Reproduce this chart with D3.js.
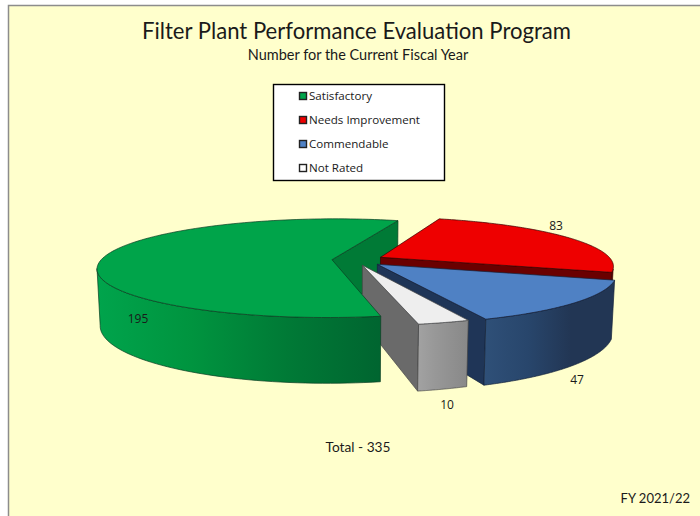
<!DOCTYPE html>
<html>
<head>
	<meta charset="utf-8" />
	<title>Filter Plant Performance Evaluation Program</title>
	<script src="https://d3js.org/d3.v7.min.js"></script>
	<style type="text/css">
		html, body { margin: 0; padding: 0; background: #ffffff; }
		svg { display: block; }
		text { font-family: Lato, sans-serif; fill: #1a1a1a; }
		.legend text, .lbl { font-family: "Open Sans", sans-serif; }
	</style>
</head>
<body>
	<script>
		const categories = ["Satisfactory", "Needs Improvement", "Commendable", "Not Rated"];
		const values = [195, 83, 47, 10];
		const totalLabel = "Total - 335";
		const title = "Filter Plant Performance Evaluation Program";
		const subtitle = "Number for the Current Fiscal Year";
		const stamp = "FY 2021/22";

		const width = 700;
		const height = 516;

		const topColors = ["#00a44a", "#ee0000", "#4f81c4", "#eeeeee"];
		const swatchColors = ["#00a44a", "#ee0000", "#4f81c4", "#ffffff"];
		const sideColors = ["#007a36", "#6a0000", "#1f3557", "#6a6a6a"];
		const edgeColors = ["#0a3d22", "#3a0000", "#14233a", "#444444"];
		const wallStops = [
			["#00a44c", "#00943f", "#007a36", "#006530"],
			["#6a0000", "#6a0000", "#6a0000", "#6a0000"],
			["#2f5078", "#28466c", "#223654", "#223654"],
			["#a2a2a2", "#989898", "#909090", "#888888"]
		];
		const explode = [0.1, 0.125, 0.13, 0.11];
		const labelX = [138, 556, 577, 447];
		const labelY = [319, 226, 380, 405];

		const startDeg = 168.9;
		const rad = Math.PI / 180;

		// perspective: disc is squashed and the far side shrinks
		const cx = 355, cy = 260, R = 231, S = 48, k = 0.172, D = 56, m = 0.012;
		const scaleX = d3.scaleLinear().domain([0, 1]).range([cx, cx + R]);
		const scaleY = d3.scaleLinear().domain([0, 1]).range([cy, cy - S]);

		function project(X, Y, Z) {
			const w = 1 + k * Y + m * Z;
			return [scaleX(X / w), scaleY(Y / w) + D * Z / w];
		}

		const pie = d3.pie().sort(null)
			.startAngle(startDeg * rad)
			.endAngle((startDeg + 360) * rad);
		const slices = pie(values);
		const line = d3.line();

		const svg = d3.select("body").append("svg")
			.attr("width", width)
			.attr("height", height);

		svg.append("rect")
			.attr("x", 8.5).attr("y", 5.5)
			.attr("width", width).attr("height", height)
			.attr("fill", "#ffffcc")
			.attr("stroke", "#8c8c8c")
			.attr("stroke-width", 1.5);

		const defs = svg.append("defs");
		wallStops.forEach((stops, i) => {
			const g = defs.append("linearGradient")
				.attr("id", "wall" + i)
				.attr("x1", 0).attr("x2", 1).attr("y1", 0).attr("y2", 0);
			stops.forEach((c, j) => {
				g.append("stop").attr("offset", j / (stops.length - 1)).attr("stop-color", c);
			});
		});

		// geometry of one slice
		function parts(s, i) {
			const mid = (s.startAngle + s.endAngle) / 2;
			const ox = explode[i] * Math.sin(mid);
			const oy = explode[i] * Math.cos(mid);
			const rim = a => [ox + Math.sin(a), oy + Math.cos(a)];
			const steps = d3.range(0, 121).map(t => s.startAngle + (s.endAngle - s.startAngle) * t / 120);
			const top = [project(ox, oy, 0)].concat(steps.map(a => project(...rim(a), 0)));
			// outer wall only up to the silhouette of the disc
			const front = steps.filter(a => rim(a)[1] < -k);
			const wall = front.map(a => project(...rim(a), 0))
				.concat(front.slice().reverse().map(a => project(...rim(a), 1)));
			const radial = a => [
				project(ox, oy, 0), project(...rim(a), 0),
				project(...rim(a), 1), project(ox, oy, 1)
			];
			return {top, wall, startWall: radial(s.startAngle), endWall: radial(s.endAngle)};
		}

		const pieces = slices.map(parts);
		const pieG = svg.append("g");

		function face(pts, fill, i) {
			if (pts.length < 3) return;
			pieG.append("path")
				.attr("d", line(pts) + "Z")
				.attr("fill", fill)
				.attr("stroke", edgeColors[i])
				.attr("stroke-width", 0.7)
				.attr("stroke-linejoin", "round");
		}

		// back to front, green front part goes on last because it hides the grey wall
		face(pieces[0].endWall, sideColors[0], 0);
		[1, 2, 3].forEach(i => {
			face(pieces[i].endWall, sideColors[i], i);
			face(pieces[i].wall, "url(#wall" + i + ")", i);
			face(pieces[i].top, topColors[i], i);
		});
		face(pieces[0].wall, "url(#wall0)", 0);
		face(pieces[0].top, topColors[0], 0);

		svg.selectAll(".lbl").data(values).enter().append("text")
			.attr("class", "lbl")
			.attr("x", (d, i) => labelX[i])
			.attr("y", (d, i) => labelY[i] + 4)
			.attr("text-anchor", "middle")
			.attr("font-size", 12)
			.text(d => d);

		svg.append("text").attr("x", 356.5).attr("y", 39)
			.attr("text-anchor", "middle").attr("font-size", 23.5)
			.attr("textLength", 429).attr("lengthAdjust", "spacingAndGlyphs").text(title);
		svg.append("text").attr("x", 358).attr("y", 60)
			.attr("text-anchor", "middle").attr("font-size", 14.5).text(subtitle);
		svg.append("text").attr("x", 358).attr("y", 452)
			.attr("text-anchor", "middle").attr("font-size", 13.7).text(totalLabel);
		svg.append("text").attr("x", 690).attr("y", 503)
			.attr("text-anchor", "end").attr("font-size", 13).text(stamp);

		const legend = svg.append("g").attr("class", "legend");
		legend.append("rect")
			.attr("x", 273.5).attr("y", 84.5)
			.attr("width", 171).attr("height", 96)
			.attr("fill", "#ffffff").attr("stroke", "#000000").attr("stroke-width", 1.4);
		const legendY = d3.scalePoint().domain(categories).range([96, 168]);
		const row = legend.selectAll(".row").data(categories).enter().append("g")
			.attr("class", "row")
			.attr("transform", d => "translate(0," + legendY(d) + ")");
		row.append("rect")
			.attr("x", 299.5).attr("y", -3.5)
			.attr("width", 7).attr("height", 7)
			.attr("fill", (d, i) => swatchColors[i])
			.attr("stroke", "#222222").attr("stroke-width", 1.4);
		row.append("text")
			.attr("x", 309).attr("y", 4)
			.attr("font-size", 11.6).text(d => d);
	</script>
</body>
</html>
